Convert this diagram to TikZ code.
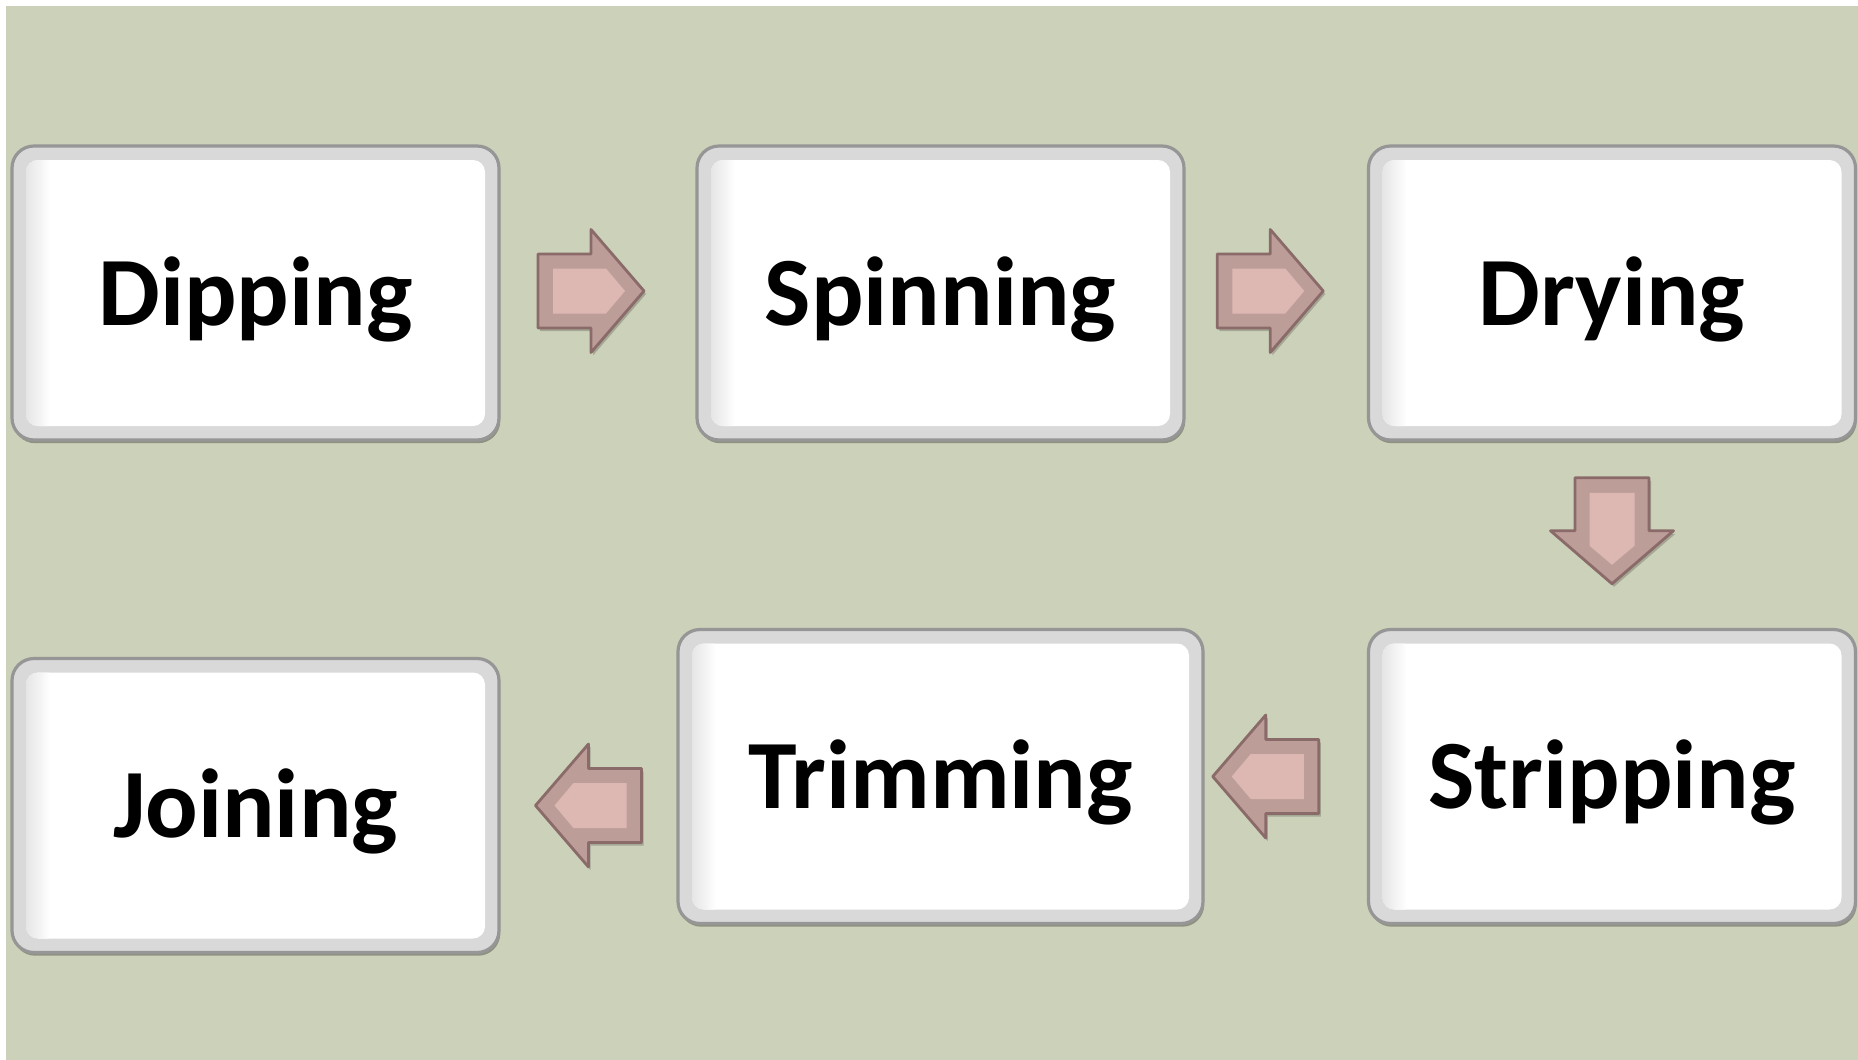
\documentclass[tikz,border=0pt]{standalone}
\usepackage{fontspec}
\setmainfont{Carlito}
\usetikzlibrary{calc,shadows}

\definecolor{bgsage}{HTML}{CCD1B9}
\definecolor{cardband}{HTML}{D9D9D9}
\definecolor{cardedge}{HTML}{969696}
\definecolor{arrowfill}{HTML}{BC9D98}
\definecolor{arrowedge}{HTML}{8A6B69}
\definecolor{arrowcore}{HTML}{DDB8B3}

\tikzset{
  stepcard/.style={
    rectangle, rounded corners=11pt, draw=cardedge, line width=1.6pt,
    fill=cardband, minimum width=243.5pt, minimum height=147pt, inner sep=0pt,
    font=\bfseries\fontsize{49}{49}\selectfont, text height=32pt, text depth=0pt,
    drop shadow={shadow xshift=0.6pt, shadow yshift=-1.6pt, opacity=0.3, fill=black},
    path picture={
      \begin{scope}
        \path[clip, rounded corners=6pt]
          ($(path picture bounding box.north west)+(7pt,-7pt)$) rectangle
          ($(path picture bounding box.south east)+(-7pt,7pt)$);
        \fill[white] (path picture bounding box.north west) rectangle
          (path picture bounding box.south east);
        \shade[left color=black!10, right color=white]
          ($(path picture bounding box.north west)+(7pt,0pt)$) rectangle
          ($(path picture bounding box.south west)+(19pt,0pt)$);
      \end{scope}
    }
  },
  pics/flowarrow/.style={code={
    % soft shadow, offset down and right
    \begin{scope}[shift={(2,3)}, rotate=#1]
      \fill[black, opacity=0.2] (-53,-37) -- (0,-37) -- (0,-61.5) -- (53,0)
        -- (0,61.5) -- (0,37) -- (-53,37) -- cycle;
    \end{scope}
    \begin{scope}[rotate=#1]
      \filldraw[fill=arrowfill, draw=arrowedge, line width=1.4pt, line join=round]
        (-53,-37) -- (0,-37) -- (0,-61.5) -- (53,0)
        -- (0,61.5) -- (0,37) -- (-53,37) -- cycle;
      \fill[arrowcore] (-38,-22.5) -- (15,-22.5) -- (34,0) -- (15,22.5)
        -- (-38,22.5) -- cycle;
    \end{scope}
  }}
}

\begin{document}
\begin{tikzpicture}[x=0.5pt, y=-0.5pt]
  \useasboundingbox (0,0) rectangle (1858,1060);
  \fill[white] (0,0) rectangle (1858,1060);
  \fill[bgsage] (6,6) rectangle (1858,1060);

  % process steps
  \node[stepcard] (dip)   at (255.5,293)   {Dipping};
  \node[stepcard] (spin)  at (940.5,293)   {Spinning};
  \node[stepcard] (dry)   at (1612,293)    {Drying};
  \node[stepcard] (strip) at (1612,776.5)  {Stripping};
  \node[stepcard, minimum width=262.5pt] (trim) at (940.5,776.5) {Trimming};
  \node[stepcard] (join)  at (255.5,805.5) {Joining};

  % block arrows between the steps
  \pic at ($(dip.east)!0.5!(spin.west)+(-7,-2)$) {flowarrow=0};
  \pic at ($(spin.east)!0.5!(dry.west)+(-6,-2)$) {flowarrow=0};
  \pic at ($(dry.south)!0.5!(strip.north)+(0,-4)$) {flowarrow=-90};
  \pic at ($(trim.east)!0.5!(strip.west)+(-20,0)$) {flowarrow=180};
  \coordinate (jt) at ($(join.east)!0.5!(trim.west)$);
  \pic at (jt |- join.east) {flowarrow=180};
\end{tikzpicture}
\end{document}
